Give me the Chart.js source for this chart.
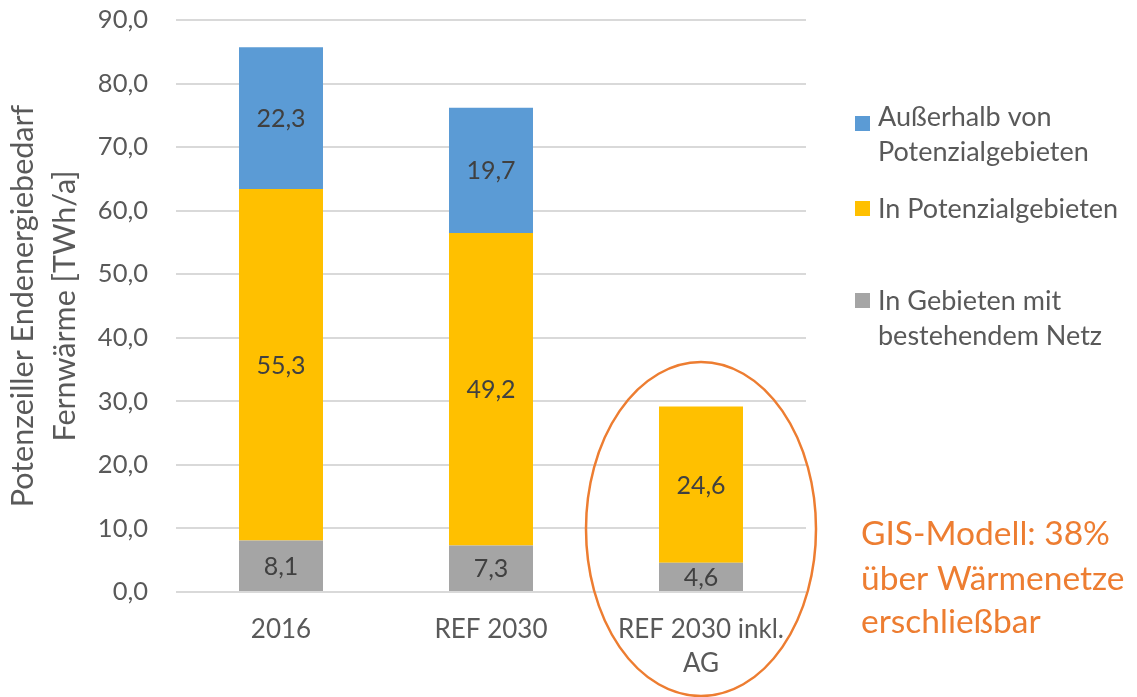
<!DOCTYPE html>
<html>
<head>
<meta charset="utf-8">
<script src="https://cdn.jsdelivr.net/npm/chart.js@4.4.1/dist/chart.umd.min.js"></script>
<style>
  html, body { margin: 0; padding: 0; background: #ffffff; }
  #wrap { position: relative; width: 1137px; height: 697px; }
</style>
</head>
<body>
<div id="wrap"><canvas id="c" width="1137" height="697"></canvas></div>
<script>
// ---- data ----
const categories = ['2016', 'REF 2030', ['REF 2030 inkl.', 'AG']];
const netzValues = [8.1, 7.3, 4.6];          // In Gebieten mit bestehendem Netz
const potenzialValues = [55.3, 49.2, 24.6];  // In Potenzialgebieten
const ausserhalbValues = [22.3, 19.7, null]; // Außerhalb von Potenzialgebieten
const seriesLabels = [
  ['In Gebieten mit', 'bestehendem Netz'],
  ['In Potenzialgebieten'],
  ['Außerhalb von', 'Potenzialgebieten']
];
const yAxisTitle = ['Potenzeiller Endenergiebedarf', 'Fernwärme [TWh/a]'];
const yMin = 0, yMax = 90, yStep = 10;
const noteLines = ['GIS-Modell: 38%', 'über Wärmenetze', 'erschließbar'];

const FONT = 'Lato';
const fmt = v => v.toFixed(1).replace('.', ',');

// data labels centred in each segment
const dataLabelPlugin = {
  id: 'dataLabels',
  afterDatasetsDraw(chart) {
    const ctx = chart.ctx;
    ctx.save();
    ctx.font = '25px ' + FONT;
    ctx.fillStyle = '#404040';
    ctx.textAlign = 'center';
    ctx.textBaseline = 'middle';
    chart.data.datasets.forEach((ds, i) => {
      const meta = chart.getDatasetMeta(i);
      meta.data.forEach((el, j) => {
        const v = ds.data[j];
        if (v === null || v === undefined) return;
        ctx.fillText(fmt(v), el.x, (el.y + el.base) / 2 + 1);
      });
    });
    ctx.restore();
  }
};

// legend on the right, reversed order, wrapped labels
const sideLegendPlugin = {
  id: 'sideLegend',
  afterDraw(chart) {
    const ctx = chart.ctx;
    ctx.save();
    ctx.font = '27px ' + FONT;
    ctx.textAlign = 'left';
    ctx.textBaseline = 'alphabetic';
    const firstBaselines = [126, 218, 310];
    const boxTops = [116, 201, 293];
    const ds = chart.data.datasets.slice().reverse();
    ds.forEach((d, k) => {
      ctx.fillStyle = d.backgroundColor;
      ctx.fillRect(855, boxTops[k], 15, 15);
      ctx.fillStyle = '#595959';
      d.label.forEach((line, li) => {
        ctx.fillText(line, 878, firstBaselines[k] + li * 35);
      });
    });
    ctx.restore();
  }
};

// orange ellipse around the third category + note text
const notePlugin = {
  id: 'note',
  afterDraw(chart) {
    const ctx = chart.ctx;
    const xs = chart.scales.x;
    const cx = xs.getPixelForValue(2);
    ctx.save();
    ctx.strokeStyle = '#ED7D31';
    ctx.lineWidth = 2.5;
    ctx.beginPath();
    ctx.ellipse(cx, 529, 115, 167, 0, 0, Math.PI * 2);
    ctx.stroke();
    ctx.font = '33.5px ' + FONT;
    ctx.fillStyle = '#ED7D31';
    ctx.textAlign = 'left';
    ctx.textBaseline = 'alphabetic';
    const base = [545, 590, 633];
    noteLines.forEach((l, i) => ctx.fillText(l, 861, base[i]));
    ctx.restore();
  }
};

const chart = new Chart(document.getElementById('c'), {
  type: 'bar',
  data: {
    labels: categories,
    datasets: [
      { label: seriesLabels[0], data: netzValues, backgroundColor: '#A5A5A5' },
      { label: seriesLabels[1], data: potenzialValues, backgroundColor: '#FFC000' },
      { label: seriesLabels[2], data: ausserhalbValues, backgroundColor: '#5B9BD5' }
    ]
  },
  options: {
    responsive: false,
    animation: false,
    devicePixelRatio: 1,
    layout: { padding: { left: 0, top: 20, right: 331, bottom: 0 } },
    plugins: { legend: { display: false }, tooltip: { enabled: false } },
    datasets: { bar: { categoryPercentage: 1, barPercentage: 0.4 } },
    scales: {
      x: {
        stacked: true,
        grid: { display: false, drawTicks: false },
        border: { display: false },
        ticks: {
          color: '#595959',
          font: { family: FONT, size: 26, lineHeight: 1.33 },
          padding: 20,
          maxRotation: 0,
          autoSkip: false
        },
        afterFit(scale) { scale.height = 105; scale.paddingLeft = 0; scale.paddingRight = 0; }
      },
      y: {
        stacked: true,
        min: yMin, max: yMax,
        grid: { color: '#D9D9D9', lineWidth: 2, drawTicks: false },
        border: { display: false },
        ticks: {
          stepSize: yStep,
          color: '#595959',
          font: { family: FONT, size: 25.5 },
          padding: 28,
          callback: v => fmt(v)
        },
        title: {
          display: true,
          text: yAxisTitle,
          color: '#595959',
          font: { family: FONT, size: 30.5, lineHeight: 1.38 },
          padding: { top: 2, bottom: 0 }
        },
        afterFit(scale) { scale.width = 176; scale.paddingTop = 0; scale.paddingBottom = 0; }
      }
    }
  },
  plugins: [dataLabelPlugin, sideLegendPlugin, notePlugin]
});
</script>
</body>
</html>
